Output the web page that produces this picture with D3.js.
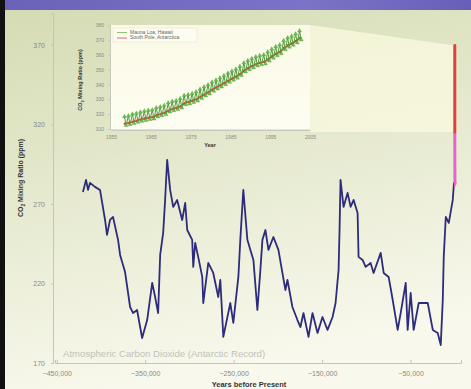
<!DOCTYPE html>
<html>
<head>
<meta charset="utf-8">
<script src="https://cdn.jsdelivr.net/npm/d3@7"></script>
<style>
  body { margin: 0; background: #fff; }
  text { font-family: "Liberation Sans", Arial, sans-serif; }
</style>
</head>
<body>
<div id="container"></div>
<script>
// Vostok ice core: thousands of years before present, ppm
const vostokKyr = [420.4, 416.9, 414.7, 412.4, 406.8, 401.1, 395.4, 393.2, 389.8, 386.4, 380.7, 378.4, 372.8,
  367.1, 363.7, 359.2, 353.5, 347.8, 342.1, 338.8, 335.4, 333.1, 329.7, 327.5, 325.2, 321.8, 318.4, 313.9,
  308.2, 304.8, 302.5, 296.9, 295.7, 293.5, 290.1, 285.5, 284.4, 278.7, 273.1, 267.4, 265.1, 261.7, 253.8,
  250.4, 244.7, 242.5, 239.1, 234.5, 231.1, 227.7, 223.2, 219.8, 217.5, 214.1, 210.7, 205.1, 199.4, 194.9,
  191.5, 189.2, 183.6, 177.9, 174.5, 171.1, 165.4, 160.9, 155.2, 149.6, 143.9, 138.2, 134.8, 131.4, 130.3,
  129.2, 125.8, 121.2, 117.8, 114.4, 109.9, 108.8, 104.2, 100.8, 95.2, 91.8, 83.8, 80.4, 74.8, 70.2, 64.6,
  61.2, 55.5, 53.3, 49.9, 46.5, 40.8, 30.6, 24.9, 19.3, 15.9, 13.6, 12.5, 10.2, 6.8, 2.3, 0.9]
const vostokPpm = [277.5, 285.1, 278.8, 283.2, 280.7, 278.8, 259.9, 250.5, 259.9, 261.8, 247.4, 237.9, 227.2,
  205.2, 201.4, 203.3, 185.7, 197.0, 220.3, 211.5, 201.4, 237.9, 251.8, 272.5, 297.7, 278.8, 268.1, 272.5,
  259.9, 270.6, 253.6, 247.4, 230.4, 245.5, 236.7, 224.1, 207.7, 232.9, 226.6, 211.5, 222.2, 186.4, 207.7,
  195.2, 224.1, 247.4, 278.8, 247.4, 241.1, 234.8, 203.3, 228.5, 247.4, 253.6, 241.1, 249.2, 241.1, 226.6,
  215.9, 222.2, 205.2, 197.0, 192.6, 201.4, 186.4, 201.4, 188.9, 198.9, 190.8, 198.9, 207.7, 228.5, 253.6,
  285.1, 268.1, 276.9, 268.1, 272.5, 264.3, 236.7, 234.8, 230.4, 232.9, 226.6, 239.2, 226.6, 224.1, 209.6,
  190.8, 201.4, 220.3, 190.8, 214.0, 190.8, 207.7, 207.7, 190.8, 188.9, 181.3, 209.6, 236.7, 261.8, 258.1,
  272.5, 283.5]

// Law Dome style link from the ice core to the instrument record (years AD, ppm)
const lawDomeYears = [1000, 1500, 1800, 1900, 1958]
const lawDomePpm = [283.5, 283, 284, 296, 315.2]

// Mauna Loa, Hawaii (annual mean, seasonal high and low)
const mloYears = d3.range(1958, 2003)
const mloMean = [315.2, 315.9, 316.9, 317.6, 318.4, 319.0, 319.6, 320.0, 321.3, 322.1, 323.0, 324.6, 325.6,
  326.3, 327.4, 329.6, 330.2, 331.1, 332.0, 333.8, 335.4, 336.8, 338.7, 340.1, 341.4, 343.0, 344.6, 346.0,
  347.4, 349.2, 351.6, 353.1, 354.4, 355.6, 356.5, 357.1, 358.9, 360.9, 362.6, 363.8, 366.6, 368.3, 369.5,
  371.1, 373.2]
const mloHigh = [318.3, 318.9, 320.0, 320.6, 321.4, 322.1, 322.6, 322.9, 324.3, 325.0, 326.0, 327.6, 328.6,
  329.2, 330.4, 332.6, 333.1, 333.9, 335.0, 336.8, 338.4, 339.8, 341.6, 343.0, 344.4, 346.0, 347.6, 349.0,
  350.4, 352.2, 354.5, 356.0, 357.4, 358.6, 359.4, 360.0, 361.9, 363.8, 365.5, 366.7, 369.5, 371.3, 372.5,
  374.0, 376.1]
const mloLow = [312.4, 313.0, 313.8, 314.6, 315.3, 315.9, 316.5, 316.8, 318.2, 319.0, 319.8, 321.5, 322.4,
  323.2, 324.2, 326.5, 327.0, 328.0, 328.9, 330.7, 332.3, 333.6, 335.6, 337.0, 338.3, 339.9, 341.5, 342.9,
  344.3, 346.1, 348.5, 350.0, 351.2, 352.5, 353.3, 353.9, 355.8, 357.8, 359.4, 360.7, 363.4, 365.2, 366.4,
  368.0, 370.0]
// South Pole, Antarctica (annual mean)
const spoPpm = [313.5, 314.0, 314.9, 315.6, 316.4, 317.0, 317.6, 318.0, 319.2, 320.0, 320.9, 322.3, 323.5,
  324.2, 325.2, 327.3, 328.2, 329.1, 330.0, 331.6, 333.2, 334.7, 336.5, 338.0, 339.4, 340.9, 342.5, 343.9,
  345.3, 347.0, 349.4, 351.0, 352.4, 353.6, 354.6, 355.2, 356.9, 358.9, 360.6, 361.9, 364.5, 366.3, 367.6,
  369.2, 371.2]

const xTicks = [-450000, -350000, -250000, -150000, -50000]
const yTicks = [170, 220, 270, 320, 370]
const insetXTicks = [1955, 1965, 1975, 1985, 1995, 2005]
const insetYTicks = [310, 320, 330, 340, 350, 360, 370, 380]
const legendNames = ["Mauna Loa, Hawaii", "South Pole, Antarctica"]

const config = {
    width: 471,
    height: 389,
    left: 55,
    right: 461,
    top: 13,
    bottom: 363,
}

const svg = d3.select('#container')
    .append('svg')
    .attr('width', config.width)
    .attr('height', config.height)

const defs = svg.append('defs')
const bg = defs.append('linearGradient').attr('id', 'bg')
    .attr('x1', 0).attr('y1', 0).attr('x2', 0.25).attr('y2', 1)
bg.append('stop').attr('offset', '0%').attr('stop-color', '#d4dbb2')
bg.append('stop').attr('offset', '45%').attr('stop-color', '#e4e8cc')
bg.append('stop').attr('offset', '100%').attr('stop-color', '#f8f8ec')

const bar = defs.append('linearGradient').attr('id', 'bar')
bar.append('stop').attr('offset', '0%').attr('stop-color', '#6a62ba')
bar.append('stop').attr('offset', '65%').attr('stop-color', '#7a74c8')
bar.append('stop').attr('offset', '100%').attr('stop-color', '#6860b8')

const panel = defs.append('linearGradient').attr('id', 'panel')
    .attr('x1', 0).attr('y1', 0).attr('x2', 0).attr('y2', 1)
panel.append('stop').attr('offset', '0%').attr('stop-color', '#fbf9e6')
panel.append('stop').attr('offset', '100%').attr('stop-color', '#fdfdf2')

svg.append('rect')
    .attr('width', config.width).attr('height', config.height)
    .attr('fill', 'url(#bg)')

svg.append('rect')
    .attr('width', config.width).attr('height', 10)
    .attr('fill', 'url(#bar)')

svg.append('rect')
    .attr('y', 0).attr('width', 5).attr('height', config.height)
    .attr('fill', '#111')

// main chart scales
const xScale = d3.scaleLinear()
    .domain([-452000, 7000])
    .range([config.left, config.right])

const yScale = d3.scaleLinear()
    .domain([170, 390])
    .range([config.bottom, config.top])

svg.append('g')
    .attr('class', 'x-axis')
    .attr('transform', `translate(0,${config.bottom})`)
    .call(d3.axisBottom(xScale)
        .tickValues(xTicks)
        .tickSize(-3)
        .tickPadding(8)
        .tickFormat(d3.format(',')))

svg.append('g')
    .attr('class', 'y-axis')
    .attr('transform', `translate(${config.left - 2},0)`)
    .call(d3.axisLeft(yScale)
        .tickValues(yTicks)
        .tickSize(2)
        .tickPadding(6))

svg.selectAll('.x-axis path, .y-axis path, .x-axis line, .y-axis line')
    .attr('stroke', '#c4c6b8')
svg.selectAll('.x-axis text, .y-axis text')
    .attr('fill', '#8a8a84')
    .style('font-size', '7px')

svg.append('text')
    .attr('x', 63)
    .attr('y', 357)
    .text('Atmospheric Carbon Dioxide (Antarctic Record)')
    .style('font-size', '9.6px')
    .style('fill', '#c2c2b8')

svg.append('text')
    .attr('text-anchor', 'middle')
    .attr('x', 249)
    .attr('y', 387)
    .text('Years before Present')
    .style('font-size', '7.5px')
    .style('font-weight', 'bold')
    .style('fill', '#333')

svg.append('text')
    .attr('text-anchor', 'middle')
    .attr('transform', 'translate(23,178) rotate(-90)')
    .style('font-size', '7px')
    .style('font-weight', 'bold')
    .style('fill', '#333')
    .call(t => {
        t.append('tspan').text('CO')
        t.append('tspan').text('2').attr('dy', 2).style('font-size', '5px')
        t.append('tspan').text(' Mixing Ratio (ppm)').attr('dy', -2)
    })

// inset scales
const ix = d3.scaleLinear().domain([1955, 2005]).range([111, 310])
const iy = d3.scaleLinear().domain([310, 380]).range([129, 25])

// zoom link from the inset to the recent part of the record
const redTop = mloMean[mloYears.indexOf(2000)]
svg.append('path')
    .attr('d', d3.line()([
        [ix(2005), iy(380)],
        [xScale(0), yScale(redTop)],
        [xScale(0), yScale(mloMean[0])],
        [ix(2005), yScale(mloMean[0])],
    ]))
    .attr('fill', '#fbf9e0')
    .style('opacity', 0.75)

svg.append('rect')
    .attr('x', ix(1955)).attr('y', iy(380))
    .attr('width', ix(2005) - ix(1955)).attr('height', iy(310) - iy(380))
    .attr('fill', 'url(#panel)')

// Vostok line
const vostok = vostokKyr.map((k, i) => [-k * 1000, vostokPpm[i]])
const mainLine = d3.line()
    .x(d => xScale(d[0]))
    .y(d => yScale(d[1]))

svg.append('path')
    .datum(vostok)
    .attr('d', mainLine)
    .attr('fill', 'none')
    .attr('stroke', '#2d2b7c')
    .attr('stroke-width', 1.8)
    .attr('stroke-linejoin', 'round')

svg.append('path')
    .datum(lawDomeYears.map((y, i) => [1950 - y, lawDomePpm[i]]))
    .attr('d', mainLine)
    .attr('fill', 'none')
    .attr('stroke', '#e566c8')
    .attr('stroke-width', 3)

svg.append('path')
    .datum(mloYears.filter(y => y <= 2000).map((y, i) => [1950 - y, mloMean[i]]))
    .attr('d', mainLine)
    .attr('fill', 'none')
    .attr('stroke', '#e2403a')
    .attr('stroke-width', 3)
    .attr('stroke-linecap', 'round')

// inset axes
svg.append('g')
    .attr('class', 'ix-axis')
    .attr('transform', `translate(0,${iy(310) + 1})`)
    .call(d3.axisBottom(ix).tickValues(insetXTicks).tickSize(0).tickPadding(5).tickFormat(d3.format('d')))

svg.append('g')
    .attr('class', 'iy-axis')
    .attr('transform', `translate(${ix(1955) - 1},0)`)
    .call(d3.axisLeft(iy).tickValues(insetYTicks).tickSize(2).tickPadding(4))

svg.selectAll('.ix-axis path, .iy-axis path, .iy-axis line')
    .attr('stroke', '#c8c8bc')
svg.selectAll('.ix-axis text, .iy-axis text')
    .attr('fill', '#8a8a84')
    .style('font-size', '5px')

svg.append('text')
    .attr('text-anchor', 'middle')
    .attr('x', 210)
    .attr('y', 147)
    .text('Year')
    .style('font-size', '5.5px')
    .style('font-weight', 'bold')
    .style('fill', '#333')

svg.append('text')
    .attr('text-anchor', 'middle')
    .attr('transform', 'translate(82,80) rotate(-90)')
    .style('font-size', '5.5px')
    .style('font-weight', 'bold')
    .style('fill', '#333')
    .call(t => {
        t.append('tspan').text('CO')
        t.append('tspan').text('2').attr('dy', 1.5).style('font-size', '4px')
        t.append('tspan').text(' Mixing Ratio (ppm)').attr('dy', -1.5)
    })

// inset series
const insetLine = d3.line()
    .x(d => ix(d[0]))
    .y(d => iy(d[1]))

const spo = mloYears.map((y, i) => [y + 0.5, spoPpm[i]])
svg.append('path')
    .datum(spo)
    .attr('d', insetLine)
    .attr('fill', 'none')
    .attr('stroke', '#d8483a')
    .attr('stroke-width', 1.6)

svg.append('g')
    .selectAll('circle')
    .data(spo)
    .join('circle')
    .attr('cx', d => ix(d[0]))
    .attr('cy', d => iy(d[1]))
    .attr('r', 1.3)
    .attr('fill', '#d8483a')

const mlo = mloYears.flatMap((y, i) => [[y + 0.38, mloHigh[i]], [y + 0.8, mloLow[i]]])
svg.append('path')
    .datum(mlo)
    .attr('d', insetLine)
    .attr('fill', 'none')
    .attr('stroke', '#4f9a3c')
    .attr('stroke-width', 1)

svg.append('g')
    .selectAll('path')
    .data(mlo)
    .join('path')
    .attr('transform', d => `translate(${ix(d[0])},${iy(d[1])})`)
    .attr('d', d3.symbol(d3.symbolTriangle, 7))
    .attr('fill', '#6cbf4e')
    .attr('stroke', '#3f8a2e')
    .attr('stroke-width', 0.3)

// inset legend
const legend = svg.append('g').attr('transform', 'translate(113,28)')
legend.append('rect')
    .attr('width', 84).attr('height', 14)
    .attr('fill', '#fdfcf0')
    .attr('stroke', '#e4e2d0')
    .attr('stroke-width', 0.5)

legend.selectAll('line')
    .data(legendNames)
    .join('line')
    .attr('x1', 4).attr('x2', 14)
    .attr('y1', (_, i) => 4.5 + i * 5.5).attr('y2', (_, i) => 4.5 + i * 5.5)
    .attr('stroke', (_, i) => i === 0 ? '#6cbf4e' : '#d8483a')
    .attr('stroke-width', 0.8)

legend.selectAll('text')
    .data(legendNames)
    .join('text')
    .attr('x', 17)
    .attr('y', (_, i) => 4.5 + i * 5.5)
    .attr('dominant-baseline', 'middle')
    .text(d => d)
    .style('font-size', '5px')
    .style('fill', '#666')
</script>
</body>
</html>
